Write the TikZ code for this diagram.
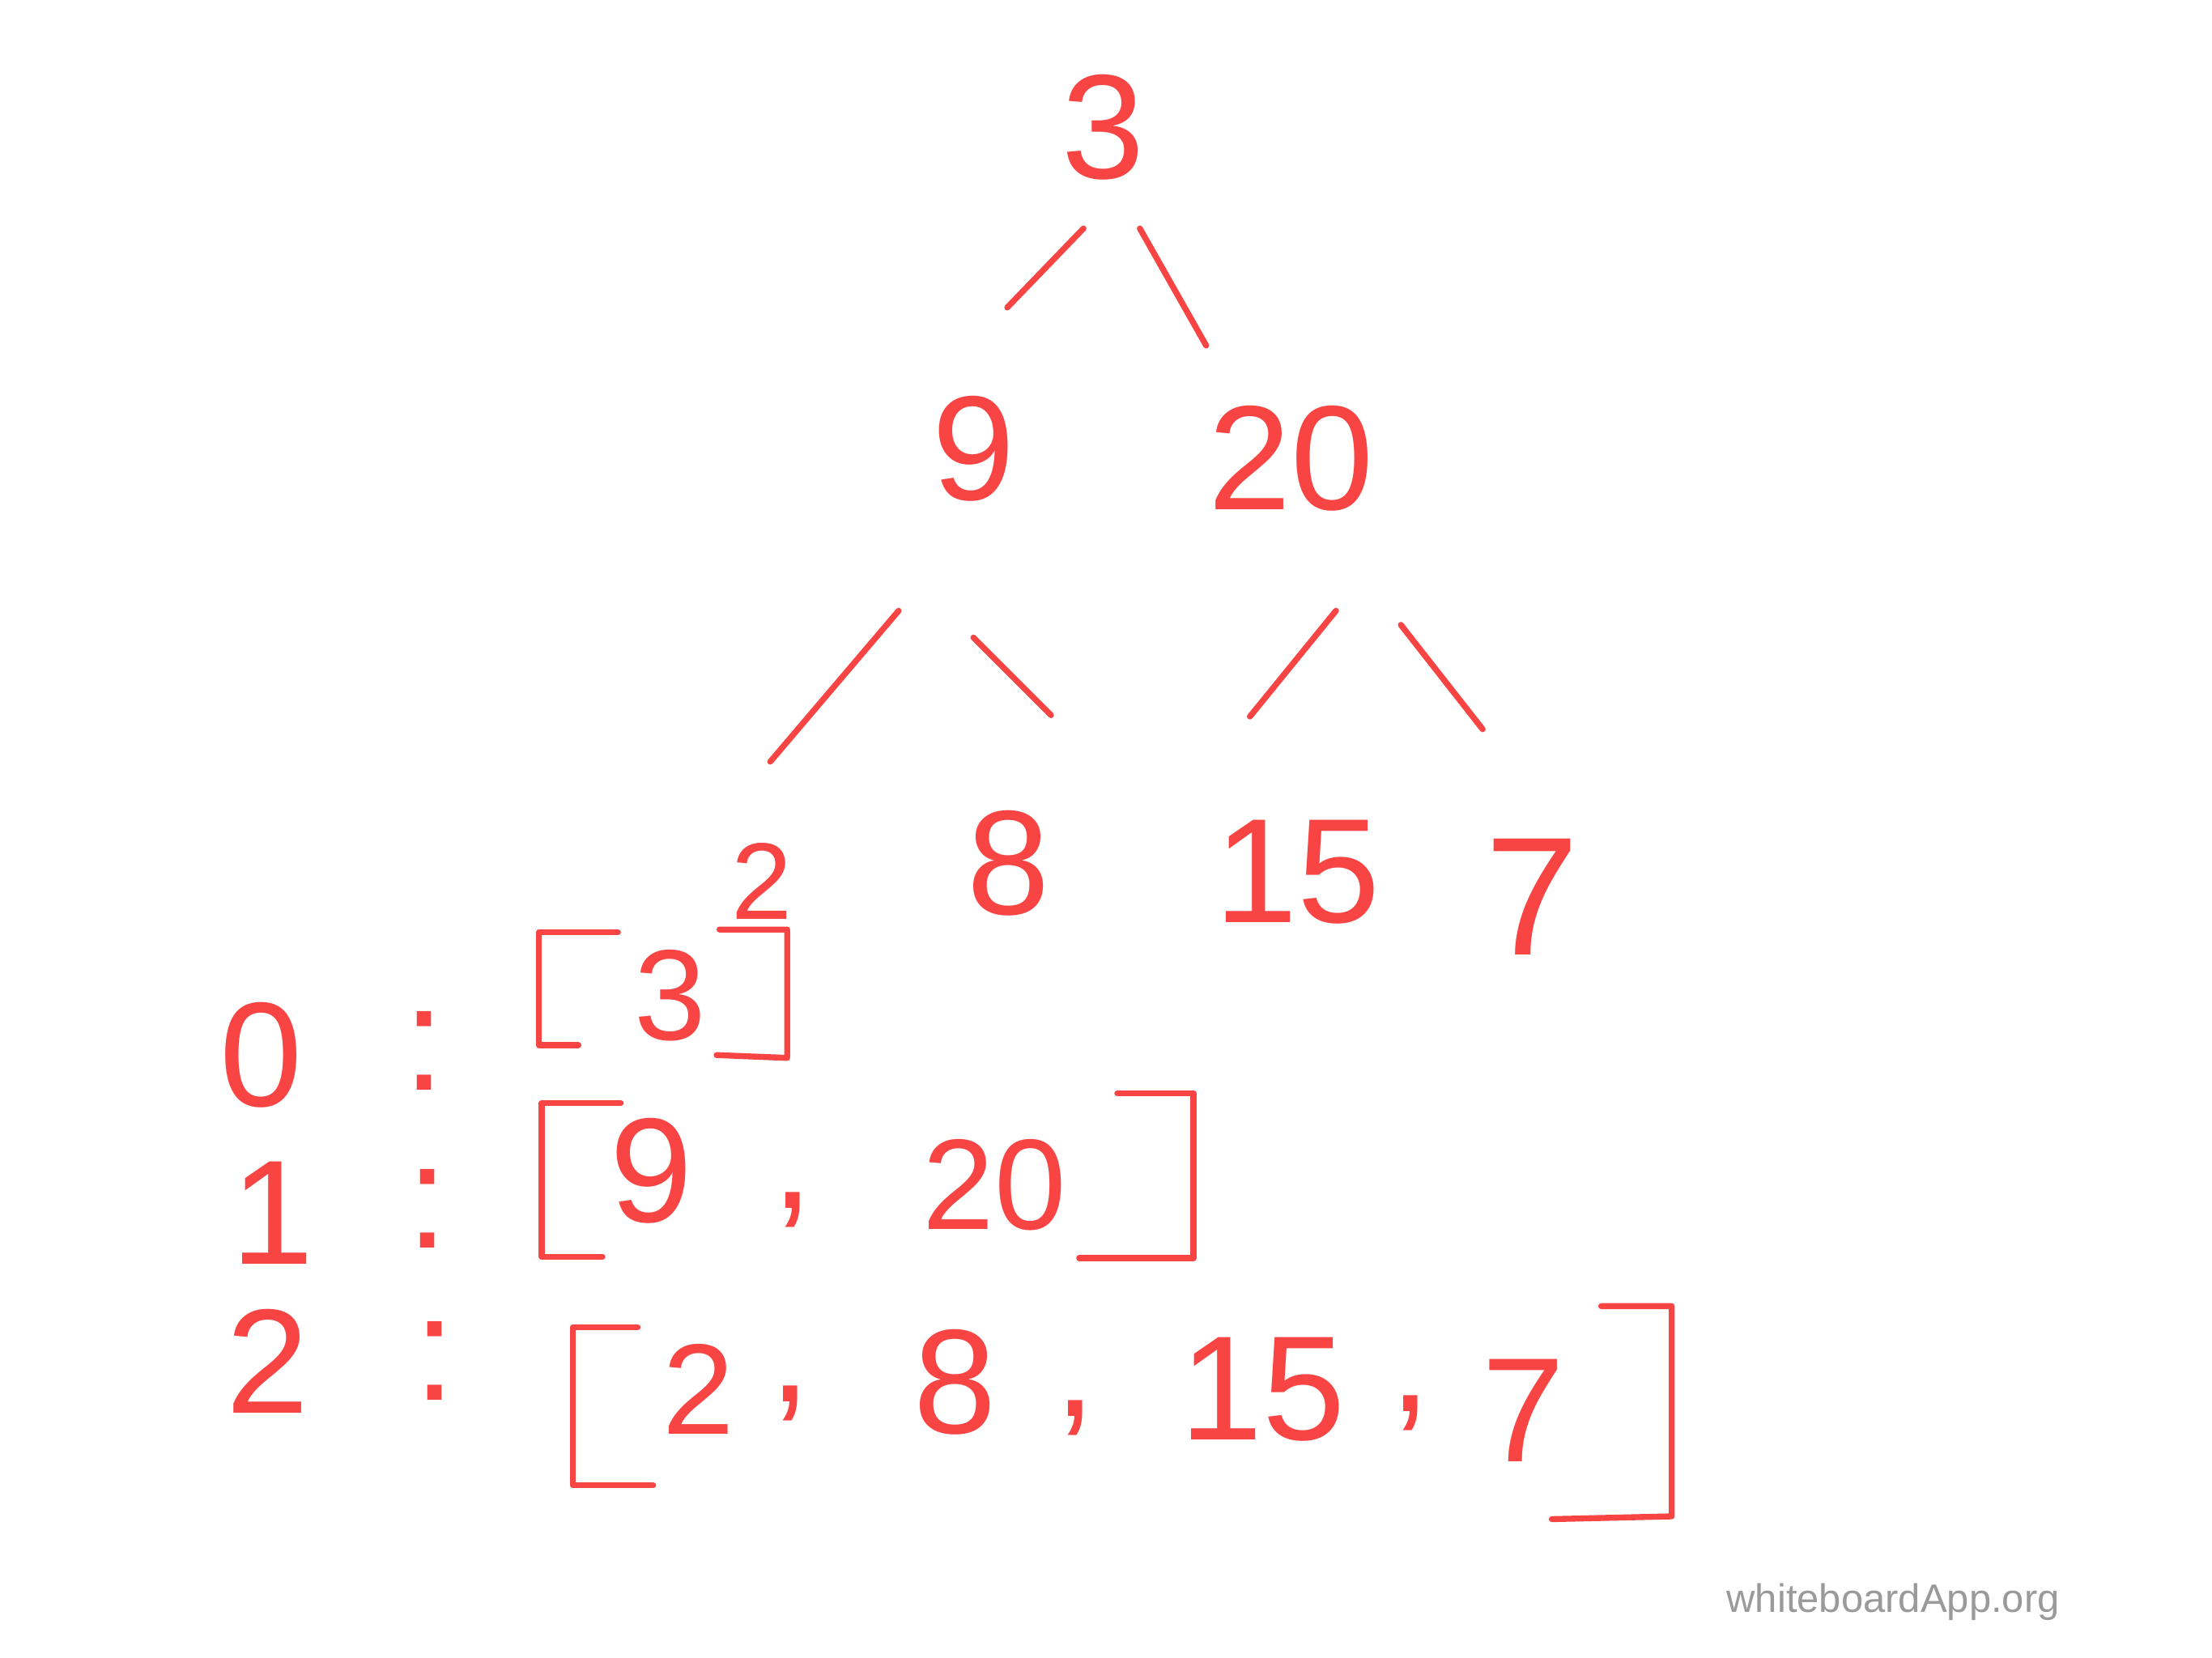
\documentclass[tikz,border=0pt]{standalone}
\usepackage{fontspec}
\setmainfont{Liberation Sans}
\definecolor{wbred}{HTML}{F94444}
\definecolor{wbgray}{HTML}{9A9A9A}
\tikzset{
  num/.style={text=wbred, inner sep=0pt, font=\fontsize{30}{36}\selectfont},
  lnum/.style={num, font=\fontsize{26}{31}\selectfont},
  stroke/.style={draw=wbred, line width=1.2pt, line cap=round, line join=round},
}
\begin{document}
\begin{tikzpicture}[x=0.1mm, y=-0.1mm]
  \useasboundingbox (0,0) rectangle (1568,1175);

    %%L0 root
    \node[num] (r3) at (782, 90) {3};

    %%L1
    \node[num] (t9) at (690, 318) {9};
    \node[num] (t20) at (915, 325) {20};

      \draw[stroke]([shift={(-14,72)}]r3.center) to ([shift={(24,-100)}]t9.center);
      \draw[stroke]([shift={(26,72)}]r3.center) to ([shift={(-60,-80)}]t20.center);

    %%L2
    \node[num, font=\fontsize{22}{26}\selectfont] (t2) at (540, 625) {2};
    \node[num] (t8) at (715, 612) {8};
    \node[num] (t15) at (920, 618) {15};
    \node[num, font=\fontsize{34}{40}\selectfont] (t7) at (1086, 636) {7};

      \draw[stroke]([shift={(-53,115)}]t9.center) to ([shift={(6,-85)}]t2.center);
      \draw[stroke]([shift={(0,134)}]t9.center) to ([shift={(30,-105)}]t8.center);
      \draw[stroke]([shift={(32,108)}]t20.center) to ([shift={(-34,-110)}]t15.center);
      \draw[stroke]([shift={(78,118)}]t20.center) to ([shift={(-35,-119)}]t7.center);

    %%level 0 list
    \node[num] (k0) at (185, 748) {0};
    \node[num] (c0) at (301, 745) {:};
    \draw[stroke](438, 661) -| (382, 741) to (410, 741);
    \node[lnum] (a3) at (475, 706) {3};
    \draw[stroke](510, 659) -| (558, 750) to (508, 748);

    %%level 1 list
    \node[num] (k1) at (193, 860) {1};
    \node[num] (c1) at (303, 857) {:};
    \draw[stroke](440, 782) -| (384, 891) to (427, 891);
    \node[num] (b9) at (462, 830) {9};
    \node[num] (b1c) at (562, 858) {,};
    \node[lnum] (b20) at (705, 840) {20};
    \draw[stroke](792, 775) -| (846, 892) to (765, 892);

    %%level 2 list
    \node[num] (k2) at (190, 965) {2};
    \node[num] (c2) at (308, 965) {:};
    \draw[stroke](452, 941) -| (406, 1053) to (463, 1053);
    \node[lnum] (e2) at (495, 985) {2};
    \node[num] (e1c) at (560, 995) {,};
    \node[num] (e8) at (677, 980) {8};
    \node[num] (e2c) at (762, 1005) {,};
    \node[num] (e15) at (895, 985) {15};
    \node[num] (e3c) at (1000, 1002) {,};
    \node[num] (e7) at (1080, 1000) {7};
    \draw[stroke](1135, 926) -| (1185, 1075) to (1100, 1077);

    %%watermark
    \node[text=wbgray, inner sep=0pt, font=\fontsize{8}{10}\selectfont] (wm) at (1342, 1136) {whiteboardApp.org};

\end{tikzpicture}
\end{document}
